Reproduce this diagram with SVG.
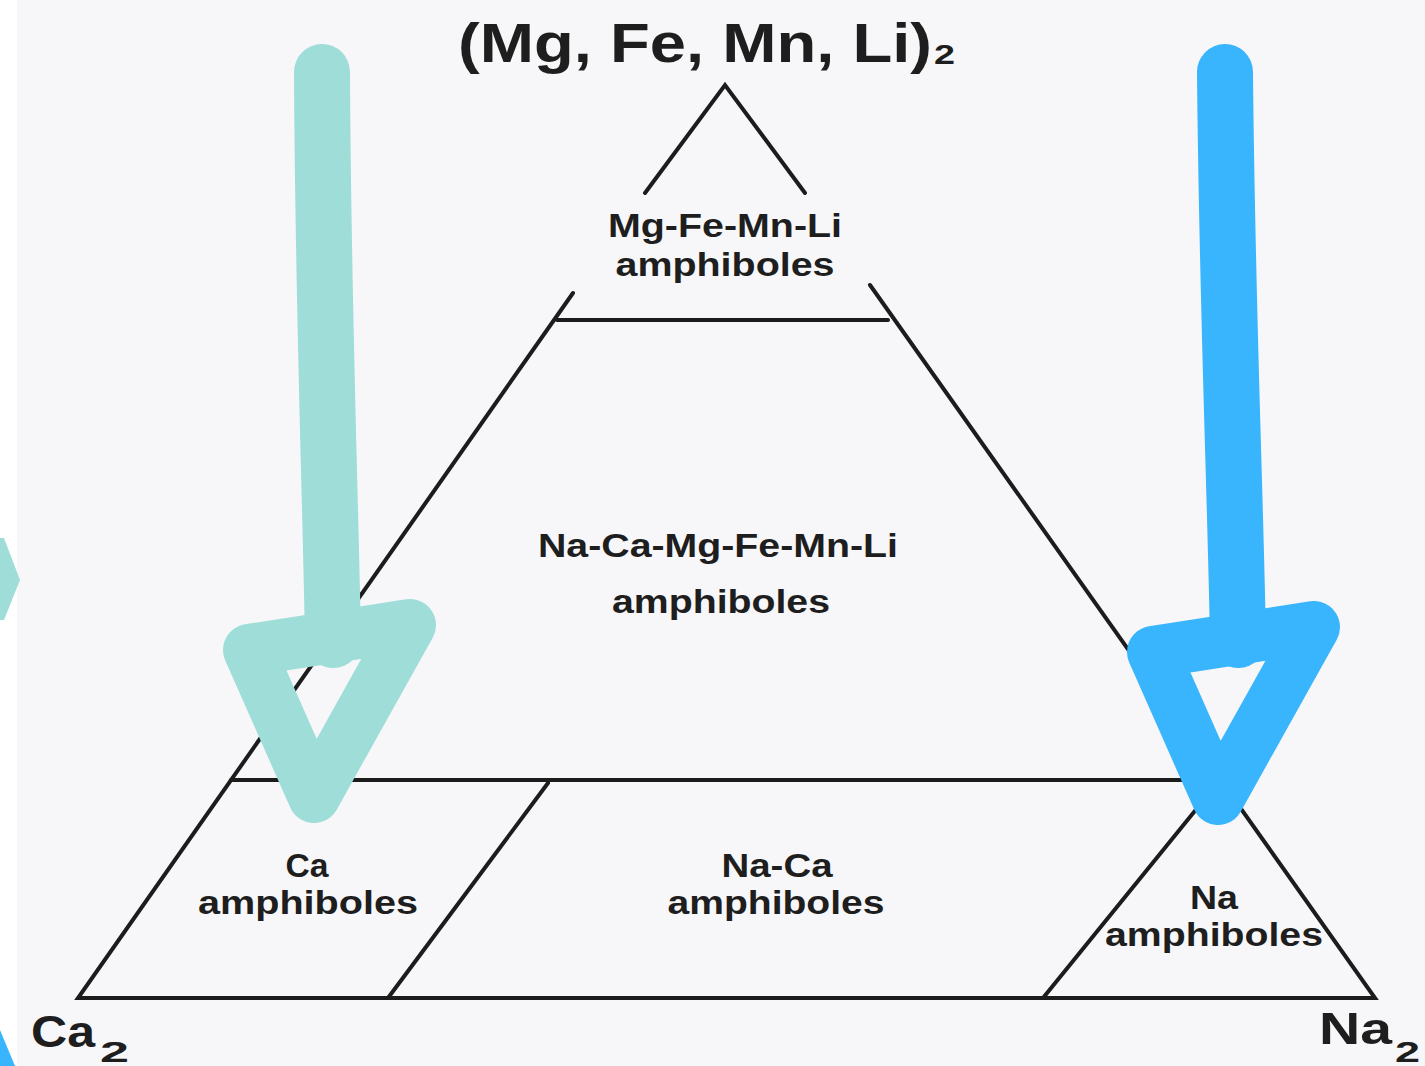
<svg xmlns="http://www.w3.org/2000/svg" width="1425" height="1066" viewBox="0 0 1425 1066">
  <style>
    .ln { stroke: #1c1c1c; stroke-width: 4; fill: none; stroke-linecap: round; }
    .t { font-family: "Liberation Sans", Arial, sans-serif; font-weight: bold; fill: #1e1e1e; text-anchor: middle; }
    .lab { font-size: 33px; }
    .title { font-size: 56px; text-anchor: start; }
    .corner { font-size: 44px; text-anchor: start; }
    .sub { font-size: 30px; text-anchor: start; }
    .arr { fill: none; stroke-linecap: round; stroke-linejoin: round; }
  </style>
  <rect x="0" y="0" width="1425" height="1066" fill="#ffffff"/>
  <rect x="17" y="0" width="1408" height="1066" fill="#f7f7f9"/>

  <g id="lines">
    <path class="ln" d="M645,193 L725,85 L805,193"/>
    <path class="ln" d="M573,293 L78,998 L1375,998 L870,285"/>
    <path class="ln" d="M557,320 L888,320"/>
    <path class="ln" d="M231,780 L1220,780"/>
    <path class="ln" d="M548,783 L388,998"/>
    <path class="ln" d="M1220,780 L1043,998"/>
  </g>

  <g id="apex-label">
    <text class="t title" x="458" y="62" textLength="474" lengthAdjust="spacingAndGlyphs">(Mg, Fe, Mn, Li)</text>
    <text class="t sub" x="934" y="64" style="font-size:28px" textLength="21" lengthAdjust="spacingAndGlyphs">2</text>
  </g>

  <g id="node-mg">
    <text class="t lab" x="725" y="237" textLength="234" lengthAdjust="spacingAndGlyphs">Mg-Fe-Mn-Li</text>
    <text class="t lab" x="725" y="276" textLength="219" lengthAdjust="spacingAndGlyphs">amphiboles</text>
  </g>

  <g id="node-naca-mg">
    <text class="t" x="718" y="557" font-size="34" textLength="360" lengthAdjust="spacingAndGlyphs">Na-Ca-Mg-Fe-Mn-Li</text>
    <text class="t" x="721" y="613" font-size="34" textLength="218" lengthAdjust="spacingAndGlyphs">amphiboles</text>
  </g>

  <g id="node-ca">
    <text class="t lab" x="307" y="877" textLength="43" lengthAdjust="spacingAndGlyphs">Ca</text>
    <text class="t lab" x="308" y="914" textLength="220" lengthAdjust="spacingAndGlyphs">amphiboles</text>
  </g>

  <g id="node-naca">
    <text class="t lab" x="777" y="877" textLength="111" lengthAdjust="spacingAndGlyphs">Na-Ca</text>
    <text class="t lab" x="776" y="914" textLength="217" lengthAdjust="spacingAndGlyphs">amphiboles</text>
  </g>

  <g id="node-na">
    <text class="t lab" x="1214" y="909" textLength="48" lengthAdjust="spacingAndGlyphs">Na</text>
    <text class="t lab" x="1214" y="946" textLength="218" lengthAdjust="spacingAndGlyphs">amphiboles</text>
  </g>

  <g id="corner-ca">
    <text class="t corner" x="31" y="1047" textLength="64" lengthAdjust="spacingAndGlyphs">Ca</text>
    <text class="t sub" x="100" y="1062" textLength="29" lengthAdjust="spacingAndGlyphs">2</text>
  </g>

  <g id="corner-na">
    <text class="t corner" x="1319" y="1044" textLength="73" lengthAdjust="spacingAndGlyphs">Na</text>
    <text class="t sub" x="1395" y="1062" textLength="25" lengthAdjust="spacingAndGlyphs">2</text>
  </g>

  <g id="connectors">
    <g id="arrow-teal" stroke="#9fddd8">
      <path class="arr" stroke-width="56" d="M322,72 C323,300 330,480 333,640"/>
      <path class="arr" stroke-width="52" d="M249,650 L410,625 L314,797 Z"/>
    </g>
    <g id="arrow-blue" stroke="#38b5fd">
      <path class="arr" stroke-width="56" d="M1225,72 C1227,300 1235,480 1238,640"/>
      <path class="arr" stroke-width="52" d="M1153,652 L1314,627 L1218,799 Z"/>
    </g>
    <polygon points="0,538 4,538 20,580 4,620 0,620" fill="#9fddd8"/>
    <polygon points="0,1030 15,1066 0,1066" fill="#38b5fd"/>
  </g>
</svg>
